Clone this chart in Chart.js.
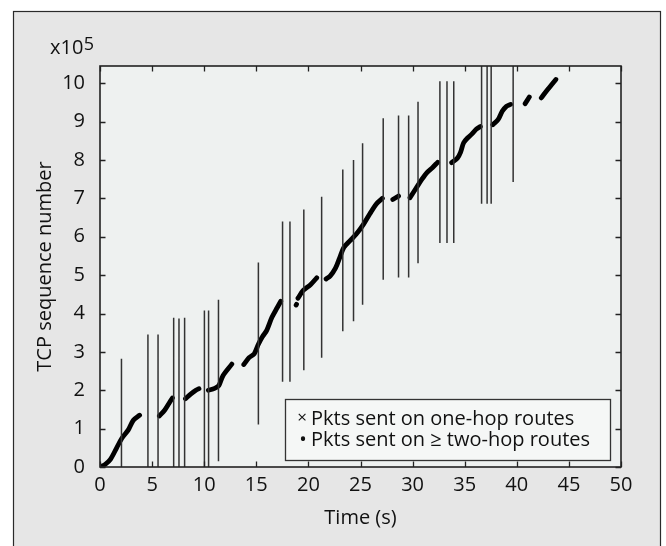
<!DOCTYPE html>
<html>
<head>
<meta charset="utf-8">
<script src="https://cdn.jsdelivr.net/npm/chart.js@4.4.1/dist/chart.umd.min.js"></script>
<style>
  html, body { margin: 0; padding: 0; background: #fff; }
  #wrap { width: 666px; height: 546px; }
</style>
</head>
<body>
<div id="wrap"><canvas id="seqChart" width="666" height="546"></canvas></div>
<script>
// one-hop packets: vertical runs (time in s, seq in x10^5)
const oneHopTimes = [2.06, 4.6, 5.57, 7.07, 7.58, 8.12, 10.02, 10.42, 11.37, 15.2, 17.52, 18.23, 19.56, 21.27,
  23.3, 24.33, 25.2, 27.18, 28.65, 29.62, 30.52, 32.62, 33.3, 33.95, 36.62, 37.15, 37.54, 39.65];
const oneHopLow = [0, 0, 0, 0, 0, 0, 0, 0, 0.15, 1.11, 2.22, 2.22, 2.52, 2.85,
  3.54, 3.8, 4.23, 4.88, 4.94, 4.94, 5.31, 5.84, 5.84, 5.84, 6.86, 6.86, 6.86, 7.43];
const oneHopHigh = [2.82, 3.45, 3.45, 3.89, 3.87, 3.89, 4.08, 4.08, 4.36, 5.33, 6.4, 6.4, 6.71, 7.04,
  7.75, 8.0, 8.44, 9.09, 9.16, 9.16, 9.52, 10.05, 10.05, 10.05, 10.6, 10.6, 10.6, 10.6];

// two-hop packets: runs of dots, one list per run
const twoHopRuns = [
  [[0, 0], [0.5, 0.07], [1.0, 0.2], [1.6, 0.5], [2.1, 0.75], [2.7, 0.96], [3.2, 1.22], [3.8, 1.35]],
  [[5.7, 1.33], [6.2, 1.48], [6.6, 1.65], [6.95, 1.8]],
  [[8.2, 1.78], [8.7, 1.9], [9.2, 2.0], [9.5, 2.04]],
  [[10.4, 2.0], [11.0, 2.05], [11.4, 2.12], [11.8, 2.38], [12.65, 2.68]],
  [[13.8, 2.67], [14.3, 2.85], [14.8, 2.95], [15.2, 3.2], [15.6, 3.4], [16.0, 3.56], [16.5, 3.9], [17.0, 4.15], [17.35, 4.32]],
  [[18.82, 4.22], [18.86, 4.24]],
  [[19.0, 4.4], [19.5, 4.6], [20.2, 4.75], [20.8, 4.93]],
  [[21.7, 4.9], [22.1, 4.98], [22.6, 5.18], [23.0, 5.45], [23.4, 5.72], [24.0, 5.9], [24.6, 6.07], [25.3, 6.33], [25.9, 6.6], [26.5, 6.85], [27.1, 7.0]],
  [[28.1, 6.97], [28.65, 7.06]],
  [[29.75, 7.02], [30.3, 7.25], [30.9, 7.5], [31.4, 7.68], [31.9, 7.8], [32.4, 7.94]],
  [[33.75, 7.93], [34.3, 8.05], [34.6, 8.2], [34.9, 8.45], [35.3, 8.58], [35.7, 8.68], [36.1, 8.8], [36.5, 8.87]],
  [[37.7, 8.92], [38.2, 9.05], [38.6, 9.27], [39.0, 9.4], [39.4, 9.45]],
  [[40.8, 9.47], [41.2, 9.64]],
  [[42.35, 9.62], [43.0, 9.85], [43.75, 10.1]]
];

const xTicks = [0, 5, 10, 15, 20, 25, 30, 35, 40, 45, 50];
const yTicks = [0, 1, 2, 3, 4, 5, 6, 7, 8, 9, 10];
const legendLabels = ['Pkts sent on one-hop routes', 'Pkts sent on \u2265 two-hop routes'];
const legendMarks = ['\u00d7', '\u2022'];

const FONT = '"Open Sans", "Noto Sans", sans-serif';

// build point lists with null breaks
const oneHopData = [];
oneHopTimes.forEach((t, i) => {
  oneHopData.push({ x: t, y: oneHopLow[i] }, { x: t, y: oneHopHigh[i] }, { x: t, y: null });
});
const twoHopData = [];
twoHopRuns.forEach(run => {
  run.forEach(p => twoHopData.push({ x: p[0], y: p[1] }));
  twoHopData.push({ x: run[run.length - 1][0], y: null });
});

const framePlugin = {
  id: 'frame',
  beforeDraw(chart) {
    const { ctx, chartArea: a } = chart;
    ctx.save();
    ctx.fillStyle = '#ffffff';
    ctx.fillRect(0, 0, chart.width, chart.height);
    ctx.fillStyle = '#e6e6e6';
    ctx.fillRect(13, 11, 648, 540);
    ctx.strokeStyle = '#2a2a2a';
    ctx.lineWidth = 1.2;
    ctx.strokeRect(13.5, 11.5, 647, 560);
    ctx.fillStyle = '#eef1f0';
    ctx.fillRect(a.left, a.top, a.right - a.left, a.bottom - a.top);
    ctx.restore();
  },
  afterDraw(chart) {
    const { ctx, chartArea: a, scales } = chart;
    ctx.save();
    // inward ticks on all sides
    ctx.strokeStyle = '#222';
    ctx.lineWidth = 1.3;
    ctx.beginPath();
    xTicks.forEach(v => {
      const px = Math.round(scales.x.getPixelForValue(v)) + 0.5;
      ctx.moveTo(px, a.bottom); ctx.lineTo(px, a.bottom - 5.5);
      ctx.moveTo(px, a.top); ctx.lineTo(px, a.top + 5.5);
    });
    yTicks.forEach(v => {
      const py = Math.round(scales.y.getPixelForValue(v)) + 0.5;
      ctx.moveTo(a.left, py); ctx.lineTo(a.left + 5.5, py);
      ctx.moveTo(a.right, py); ctx.lineTo(a.right - 5.5, py);
    });
    ctx.stroke();
    // plot box
    ctx.lineWidth = 1.6;
    ctx.strokeRect(a.left, a.top, a.right - a.left, a.bottom - a.top);

    // legend box
    const lx = 285.5, ly = 399.5, lw = 325, lh = 61;
    ctx.fillStyle = '#f5f7f6';
    ctx.fillRect(lx, ly, lw, lh);
    ctx.strokeStyle = '#333';
    ctx.lineWidth = 1.3;
    ctx.strokeRect(lx, ly, lw, lh);
    ctx.fillStyle = '#111';
    ctx.textBaseline = 'middle';
    ctx.textAlign = 'center';
    ctx.font = '17px ' + FONT;
    ctx.fillText(legendMarks[0], 302, 418);
    ctx.font = '20px ' + FONT;
    ctx.fillText(legendMarks[1], 303, 440);
    ctx.textAlign = 'left';
    ctx.fillText(legendLabels[0], 311, 419);
    ctx.fillText(legendLabels[1], 311, 440);

    // multiplier label
    ctx.textBaseline = 'alphabetic';
    ctx.font = '20px ' + FONT;
    ctx.fillText('x10', 50, 54);
    const w = ctx.measureText('x10').width;
    ctx.font = '18px ' + FONT;
    ctx.fillText('5', 50 + w + 0.5, 50);
    ctx.restore();
  }
};

new Chart(document.getElementById('seqChart'), {
  type: 'line',
  data: {
    datasets: [
      {
        label: legendLabels[0],
        data: oneHopData,
        borderColor: '#333333',
        borderWidth: 1.5,
        pointRadius: 0,
        spanGaps: false,
        tension: 0
      },
      {
        label: legendLabels[1],
        data: twoHopData,
        borderColor: '#000000',
        borderWidth: 4.8,
        borderCapStyle: 'round',
        borderJoinStyle: 'round',
        pointRadius: 0,
        spanGaps: false,
        tension: 0.3
      }
    ]
  },
  options: {
    responsive: false,
    animation: false,
    events: [],
    layout: { padding: { top: 66, right: 45, left: 0, bottom: 0 } },
    plugins: { legend: { display: false }, tooltip: { enabled: false } },
    scales: {
      x: {
        type: 'linear',
        min: 0, max: 50,
        afterFit: s => { s.height = 79; },
        afterBuildTicks: s => { s.ticks = xTicks.map(v => ({ value: v })); },
        grid: { display: false, drawTicks: false },
        border: { display: false },
        ticks: { color: '#111', padding: 6, font: { family: FONT, size: 20 } },
        title: { display: true, text: 'Time (s)', color: '#111', padding: { top: 0, bottom: 16 }, font: { family: FONT, size: 20 } }
      },
      y: {
        type: 'linear',
        min: 0, max: 10.45,
        afterFit: s => { s.width = 100; },
        afterBuildTicks: s => { s.ticks = yTicks.map(v => ({ value: v })); },
        grid: { display: false, drawTicks: false },
        border: { display: false },
        ticks: { color: '#111', padding: 15, font: { family: FONT, size: 20 } },
        title: { display: true, text: 'TCP sequence number', color: '#111', padding: { top: 33, bottom: 0 }, font: { family: FONT, size: 20 } }
      }
    }
  },
  plugins: [framePlugin]
});
</script>
</body>
</html>
